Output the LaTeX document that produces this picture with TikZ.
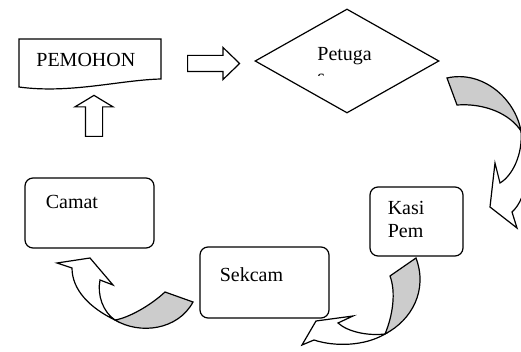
\documentclass[tikz,border=0pt]{standalone}
\usepackage{fontspec}
\setmainfont{Liberation Serif}
\usetikzlibrary{shapes.geometric, shapes.arrows, positioning, calc}
\definecolor{shadeColor}{RGB}{204, 204, 204}
\tikzstyle{office} = [rectangle, rounded corners=4pt, draw=black, line width=0.6pt, inner sep=0pt]
\tikzstyle{decision} = [diamond, minimum width=92pt, minimum height=52pt, inner sep=0pt, draw=black, line width=0.6pt]
\tikzstyle{caption} = [anchor=north west, inner sep=0pt, align=left, font=\fontsize{10}{11.5}\selectfont]
\tikzstyle{hollow} = [single arrow, draw=black, fill=white, line width=0.6pt, inner xsep=0pt, anchor=tail]
\tikzstyle{backside} = [draw=black, fill=shadeColor, line width=0.6pt]
\tikzstyle{frontside} = [draw=black, fill=white, line width=0.6pt]

\begin{document}
\begin{tikzpicture}[x=0.5pt, y=-0.5pt]
				\clip (0,0) rectangle (521,352);
				\node (pemohon) [caption] at (36,53) {PEMOHON};
				\node (petugas) [decision] at (347,61) {};
				\node (kasi) [office, minimum width=46.5pt, minimum height=34.5pt] at (416.5,221.5) {};
				\node (sekcam) [office, minimum width=64.5pt, minimum height=35.5pt] at (264.5,282.5) {};
				\node (camat) [office, minimum width=64.5pt, minimum height=35pt] at (89.5,213) {};
				
				\node (kasitext) [caption] at ($(kasi.north west)+(18,14)$) {Kasi\\Pem};
				\node (sekcamtext) [caption] at ($(sekcam.north west)+(20,21)$) {Sekcam};
				\node (camattext) [caption] at ($(camat.north west)+(21,17)$) {Camat};
				\begin{scope}
					\clip (300,40) rectangle (400,76);
					\node (petugastext) [caption] at ($(petugas.center)+(-30,-14)$) {Petuga\\s};
				\end{scope}
				
				\draw[line width=0.6pt] (19,87) -- (19,39) -- (161,39) -- (161,79) .. controls (120,80) and (70,94) .. (19,87) -- cycle;
				
				\node (toPetugas) [hollow, inner ysep=3.75pt, minimum height=26pt, single arrow head extend=4pt, single arrow tip angle=88] at (187,63.5) {};
				\node (toPemohon) [hollow, shape border rotate=90, inner xsep=4pt, inner ysep=0pt, minimum height=20.5pt, single arrow head extend=5.25pt, single arrow tip angle=118] at (94,137) {};
				
				\filldraw[backside] (447,78) .. controls (482,70) and (515,98) .. (521,131) .. controls (510,114) and (485,103) .. (457,105) -- cycle;
				\filldraw[frontside] (521,131) .. controls (523,155) and (512,176) .. (500,183) -- (495,163) -- (490,207) -- (517,228) -- (512,212) .. controls (528,198) and (532,160) .. (521,131) -- cycle;
				
				\filldraw[backside] (416,258) .. controls (428,290) and (412,320) .. (385,334) .. controls (393,315) and (396,292) .. (390,276) -- cycle;
				\filldraw[frontside] (385,334) .. controls (368,336) and (348,332) .. (338,323) -- (353,316) -- (316,321) -- (302,345) -- (314,340) .. controls (335,347) and (365,346) .. (385,334) -- cycle;
				
				\filldraw[backside] (193,302) .. controls (178,330) and (140,335) .. (115,320) .. controls (128,318) and (150,306) .. (165,292) -- cycle;
				\filldraw[frontside] (115,320) .. controls (90,308) and (72,290) .. (72,268) -- (57,263) -- (90,258) -- (113,285) -- (100,280) .. controls (97,295) and (103,312) .. (115,320) -- cycle;
			\end{tikzpicture}
\end{document}
